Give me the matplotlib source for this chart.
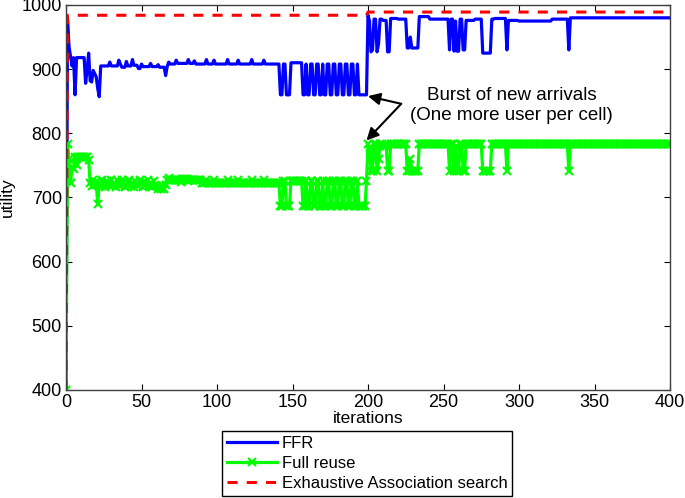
"""Utility vs iterations: FFR / Full reuse / Exhaustive association search"""
import numpy as np, matplotlib; matplotlib.use("Agg")
import matplotlib.pyplot as plt

plt.rcParams['font.family'] = ['Liberation Sans', 'DejaVu Sans']

# values, as (value, number of iterations) runs, iter 0..400
ffr_runs = [(400,1),(978,1),(935,1),(920,1),(905,1),(918,1),(860,1),(918,6),(878,1),(900,1),
            (925,1),(882,1),(880,1),(898,1),(893,1),(888,1),(870,1),(857,1),(905,6),(911,1),
            (905,5),(914,1),(908,1),(903,3),(912,1),(905,3),(915,1),(906,3),(901,2),(908,1),
            (904,5),(909,1),(904,4),(907,1),(903,4),(890,1),(904,1),(911,1),(908,4),(914,1),
            (909,7),(915,1),(909,3),(913,1),(908,7),(915,1),(908,4),(914,1),(908,8),(915,1),
            (908,6),(914,1),(908,8),(915,1),(908,7),(914,1),(908,10),
            (860,2),(908,2),(860,3),(910,8),
            (860,2),(908,1),(860,2),(908,2),(860,2),(908,2),(860,2),(908,1),(860,2),(908,2),
            (860,2),(908,2),(860,2),(908,2),(860,2),(908,2),(860,2),(908,2),(860,2),(908,1),
            (860,6),
            (984,1),(975,1),(927,1),(930,1),(978,2),(927,1),(940,1),(978,2),(976,3),(927,2),
            (979,5),(978,6),(933,2),(950,1),(933,5),(982,7),(978,13),(930,1),(978,2),(928,1),
            (975,1),(928,2),(978,2),(930,2),(976,6),(978,5),(925,6),(978,2),(979,8),(930,1),
            (976,7),(975,22),(978,11),(930,1),(980,67)]

reuse_runs = [(400,1),(783,1),(760,1),(722,1),(748,1),(745,1),(763,1),(750,1),(763,7),(758,1),
              (723,1),(718,1),(727,1),(720,1),(724,1),(690,1),(722,1),
              (718,1),(728,1),(720,1),(716,1),(726,1),(722,1),(718,1),(728,1),(720,1),(722,1),
              (716,1),(727,1),(720,1),(718,1),(728,1),(722,1),(716,1),(724,1),(720,1),(728,1),
              (718,1),(722,1),(716,1),(726,1),(720,1),(718,1),(728,1),(722,1),(716,1),(724,1),
              (720,1),(727,1),(718,1),(722,1),(716,1),(726,1),(720,1),(718,1),(714,1),(716,1),
              (713,1),(715,1),(713,1),(720,1),(728,1),(730,1),
              (728,7),(724,1),(729,4),(725,1),(727,8),(722,3),(728,1),(722,4),(728,1),(722,8),
              (728,1),(722,6),(728,1),(722,8),(728,1),(722,7),(728,1),(722,10),
              (686,2),(725,2),(686,3),(726,8),
              (686,2),(725,1),(686,2),(725,2),(686,2),(725,2),(686,2),(725,1),(686,2),(725,2),
              (686,2),(725,2),(686,2),(725,2),(686,2),(725,2),(686,2),(725,2),(686,2),(725,1),
              (686,5),(725,1),
              (783,1),(778,1),(742,2),(783,2),(742,1),(760,1),(783,2),(781,3),(742,2),(783,11),
              (742,2),(760,1),(742,5),(784,20),(742,1),(783,2),(742,1),(780,1),(742,2),(783,2),
              (742,2),(783,11),(742,6),(783,10),(742,1),(783,40),(742,1),(784,67)]

exhaustive_runs = [(400,1),(984,199),(989,201)]

def expand(runs):
    vals, counts = zip(*runs)
    return np.repeat(vals, counts)

ffr = expand(ffr_runs)
reuse = expand(reuse_runs)
exhaustive = expand(exhaustive_runs)
iters = np.arange(len(ffr))

fig = plt.figure(figsize=(6.85, 4.98), dpi=100)
ax = fig.add_axes([66/685, 1-390/498, 604/685, 385/498])

l1, = ax.plot(iters, ffr, color="#0000ff", lw=2.3, label="FFR")
l2, = ax.plot(np.arange(len(reuse)), reuse, color="#00ff00", lw=2.3, marker="x",
              ms=5.5, mew=1.6, label="Full reuse")
l3, = ax.plot(np.arange(len(exhaustive)), exhaustive, color="#ff0000", lw=2.2,
              ls=(0, (3.3, 3.0)), label="Exhaustive Association search")

ax.set_xlim(0, 400); ax.set_ylim(400, 1000)
ax.set_xticks(np.arange(0, 401, 50)); ax.set_yticks(np.arange(400, 1001, 100))
ax.tick_params(direction="in", top=True, right=True, length=4, labelsize=13, pad=3)
for s in ax.spines.values():
    s.set_color("0.25"); s.set_linewidth(1)
ax.set_xlabel("iterations", fontsize=12.5, labelpad=0)
ax.set_ylabel("utility", fontsize=12.5, labelpad=5)

ax.text(295, 843, "Burst of new arrivals\n(One more user per cell)", ha="center", va="center",
        fontsize=13.5, linespacing=1.2)
arrow = dict(arrowstyle="-|>", color="k", lw=1.5, mutation_scale=18, shrinkA=0, shrinkB=0)
ax.annotate("", xy=(200, 858), xytext=(222, 846), arrowprops=arrow)
ax.annotate("", xy=(199, 789), xytext=(222, 846), arrowprops=arrow)

fig.legend(handles=[l1, l2, l3], loc="center", bbox_to_anchor=(367/685, 1-463/498),
           fontsize=12, fancybox=False, edgecolor="k", framealpha=1, handlelength=3,
           handletextpad=0.3, labelspacing=0.3, borderpad=0.3, borderaxespad=0)
fig.savefig("out.png", dpi=100)
